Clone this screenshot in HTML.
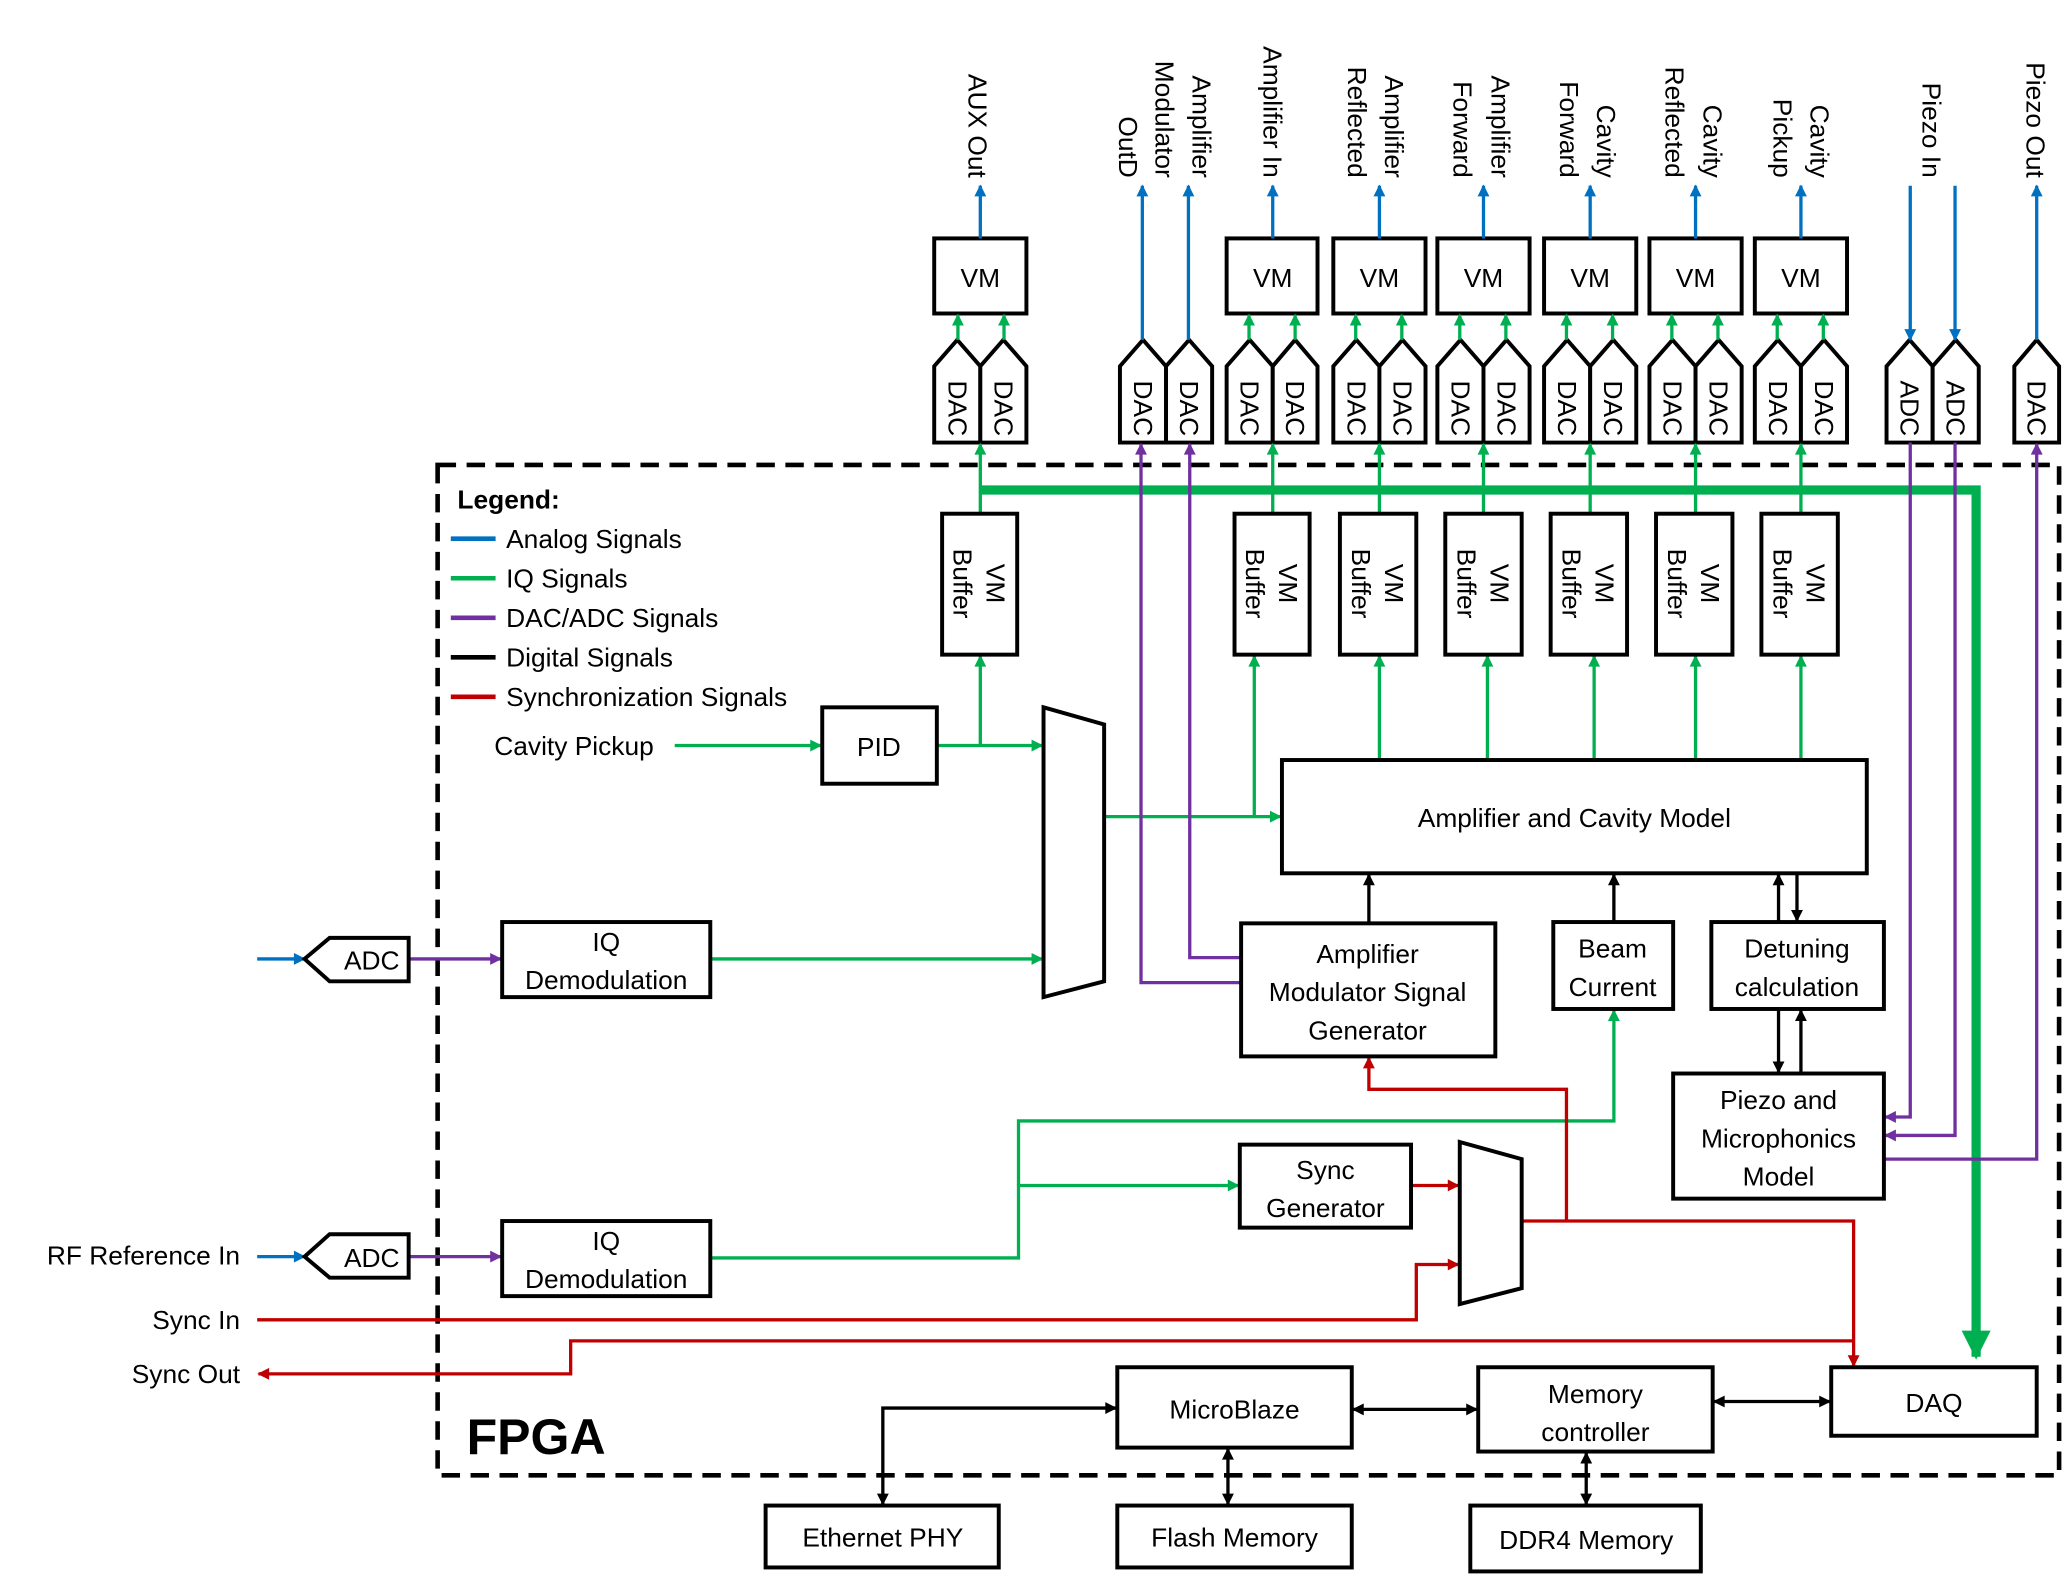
<!DOCTYPE html>
<html><head><meta charset="utf-8"><style>html,body{margin:0;padding:0;background:#fff}svg{display:block}text{font-family:"Liberation Sans",sans-serif;font-size:20px;fill:#000}</style></head><body>
<svg width="2066" height="1578" viewBox="0 0 1568 1198" xmlns="http://www.w3.org/2000/svg">
<defs>
<marker id="ab" viewBox="0 0 10 10" refX="9" refY="5" markerUnits="userSpaceOnUse" markerWidth="10" markerHeight="9" orient="auto-start-reverse"><path d="M0,0L10,5L0,10z" fill="#0070c0"/></marker>
<marker id="ag" viewBox="0 0 10 10" refX="9" refY="5" markerUnits="userSpaceOnUse" markerWidth="10" markerHeight="9" orient="auto-start-reverse"><path d="M0,0L10,5L0,10z" fill="#00b050"/></marker>
<marker id="ap" viewBox="0 0 10 10" refX="9" refY="5" markerUnits="userSpaceOnUse" markerWidth="10" markerHeight="9" orient="auto-start-reverse"><path d="M0,0L10,5L0,10z" fill="#7030a0"/></marker>
<marker id="ak" viewBox="0 0 10 10" refX="9" refY="5" markerUnits="userSpaceOnUse" markerWidth="10" markerHeight="9" orient="auto-start-reverse"><path d="M0,0L10,5L0,10z" fill="#000"/></marker>
<marker id="ar" viewBox="0 0 10 10" refX="9" refY="5" markerUnits="userSpaceOnUse" markerWidth="10" markerHeight="9" orient="auto-start-reverse"><path d="M0,0L10,5L0,10z" fill="#c00000"/></marker>
<marker id="agb" viewBox="0 0 10 10" refX="9" refY="5" markerUnits="userSpaceOnUse" markerWidth="24" markerHeight="22" orient="auto"><path d="M0,0L10,5L0,10z" fill="#00b050"/></marker>
</defs>

<!-- FPGA box -->
<rect x="332" y="353" width="1231" height="767" fill="none" stroke="#000" stroke-width="3.5" stroke-dasharray="14,8"/>
<text x="354" y="1104" style="font-size:38px;font-weight:bold">FPGA</text>

<!-- Legend -->
<text x="347" y="386" style="font-weight:bold">Legend:</text>
<g stroke-width="3.5">
<line x1="342" y1="409" x2="376" y2="409" stroke="#0070c0"/>
<line x1="342" y1="439" x2="376" y2="439" stroke="#00b050"/>
<line x1="342" y1="469" x2="376" y2="469" stroke="#7030a0"/>
<line x1="342" y1="499" x2="376" y2="499" stroke="#000"/>
<line x1="342" y1="529" x2="376" y2="529" stroke="#c00000"/>
</g>
<text x="384" y="416">Analog Signals</text>
<text x="384" y="446">IQ Signals</text>
<text x="384" y="476">DAC/ADC Signals</text>
<text x="384" y="506">Digital Signals</text>
<text x="384" y="536">Synchronization Signals</text>

<!-- Top VM boxes -->
<g fill="#fff" stroke="#000" stroke-width="3">
<rect x="709" y="181" width="70" height="57"/>
<rect x="931" y="181" width="69" height="57"/>
<rect x="1012" y="181" width="70" height="57"/>
<rect x="1091" y="181" width="70" height="57"/>
<rect x="1172" y="181" width="70" height="57"/>
<rect x="1252" y="181" width="70" height="57"/>
<rect x="1332" y="181" width="70" height="57"/>
</g>
<g text-anchor="middle">
<text x="744" y="218">VM</text><text x="966" y="218">VM</text><text x="1047" y="218">VM</text><text x="1126" y="218">VM</text><text x="1207" y="218">VM</text><text x="1287" y="218">VM</text><text x="1367" y="218">VM</text>
</g>

<!-- DAC/ADC pentagons -->
<g fill="#fff" stroke="#000" stroke-width="3">
<path d="M709,336V278L726.5,258L744,278V336Z"/><path d="M744,336V278L761.5,258L779,278V336Z"/>
<path d="M850,336V278L867.5,258L885,278V336Z"/><path d="M885,336V278L902.5,258L920,278V336Z"/>
<path d="M931,336V278L948.5,258L966,278V336Z"/><path d="M966,336V278L983,258L1000,278V336Z"/>
<path d="M1012,336V278L1029.5,258L1047,278V336Z"/><path d="M1047,336V278L1064.5,258L1082,278V336Z"/>
<path d="M1091,336V278L1108.5,258L1126,278V336Z"/><path d="M1126,336V278L1143.5,258L1161,278V336Z"/>
<path d="M1172,336V278L1189.5,258L1207,278V336Z"/><path d="M1207,336V278L1224.5,258L1242,278V336Z"/>
<path d="M1252,336V278L1269.5,258L1287,278V336Z"/><path d="M1287,336V278L1304.5,258L1322,278V336Z"/>
<path d="M1332,336V278L1349.5,258L1367,278V336Z"/><path d="M1367,336V278L1384.5,258L1402,278V336Z"/>
<path d="M1432,336V278L1449.5,258L1467,278V336Z"/><path d="M1467,336V278L1484.5,258L1502,278V336Z"/>
<path d="M1529,336V278L1546,258L1563,278V336Z"/>
</g>
<g text-anchor="middle" dominant-baseline="central">
<text transform="translate(726.5,310) rotate(90)">DAC</text><text transform="translate(761.5,310) rotate(90)">DAC</text>
<text transform="translate(867.5,310) rotate(90)">DAC</text><text transform="translate(902.5,310) rotate(90)">DAC</text>
<text transform="translate(948.5,310) rotate(90)">DAC</text><text transform="translate(983,310) rotate(90)">DAC</text>
<text transform="translate(1029.5,310) rotate(90)">DAC</text><text transform="translate(1064.5,310) rotate(90)">DAC</text>
<text transform="translate(1108.5,310) rotate(90)">DAC</text><text transform="translate(1143.5,310) rotate(90)">DAC</text>
<text transform="translate(1189.5,310) rotate(90)">DAC</text><text transform="translate(1224.5,310) rotate(90)">DAC</text>
<text transform="translate(1269.5,310) rotate(90)">DAC</text><text transform="translate(1304.5,310) rotate(90)">DAC</text>
<text transform="translate(1349.5,310) rotate(90)">DAC</text><text transform="translate(1384.5,310) rotate(90)">DAC</text>
<text transform="translate(1449.5,310) rotate(90)">ADC</text><text transform="translate(1484.5,310) rotate(90)">ADC</text>
<text transform="translate(1546,310) rotate(90)">DAC</text>
</g>

<!-- Top labels -->
<g text-anchor="end" dominant-baseline="central">
<text transform="translate(742,135) rotate(90)">AUX Out</text>
<text transform="translate(912,135) rotate(90)">Amplifier</text>
<text transform="translate(884,135) rotate(90)">Modulator</text>
<text transform="translate(856,135) rotate(90)">OutD</text>
<text transform="translate(966,135) rotate(90)">Amplifier In</text>
<text transform="translate(1058,135) rotate(90)">Amplifier</text>
<text transform="translate(1030,135) rotate(90)">Reflected</text>
<text transform="translate(1139,135) rotate(90)">Amplifier</text>
<text transform="translate(1110,135) rotate(90)">Forward</text>
<text transform="translate(1219,135) rotate(90)">Cavity</text>
<text transform="translate(1191,135) rotate(90)">Forward</text>
<text transform="translate(1300,135) rotate(90)">Cavity</text>
<text transform="translate(1271,135) rotate(90)">Reflected</text>
<text transform="translate(1381,135) rotate(90)">Cavity</text>
<text transform="translate(1353,135) rotate(90)">Pickup</text>
<text transform="translate(1466,135) rotate(90)">Piezo In</text>
<text transform="translate(1545,135) rotate(90)">Piezo Out</text>
</g>

<!-- blue arrows top -->
<g stroke="#0070c0" stroke-width="2.5" fill="none">
<line x1="744" y1="181" x2="744" y2="141" marker-end="url(#ab)"/>
<line x1="966" y1="181" x2="966" y2="141" marker-end="url(#ab)"/>
<line x1="1047" y1="181" x2="1047" y2="141" marker-end="url(#ab)"/>
<line x1="1126" y1="181" x2="1126" y2="141" marker-end="url(#ab)"/>
<line x1="1207" y1="181" x2="1207" y2="141" marker-end="url(#ab)"/>
<line x1="1287" y1="181" x2="1287" y2="141" marker-end="url(#ab)"/>
<line x1="1367" y1="181" x2="1367" y2="141" marker-end="url(#ab)"/>
<line x1="867" y1="258" x2="867" y2="141" marker-end="url(#ab)"/>
<line x1="902" y1="258" x2="902" y2="141" marker-end="url(#ab)"/>
<line x1="1450" y1="141" x2="1450" y2="258" marker-end="url(#ab)"/>
<line x1="1484" y1="141" x2="1484" y2="258" marker-end="url(#ab)"/>
<line x1="1546" y1="258" x2="1546" y2="141" marker-end="url(#ab)"/>
<line x1="195" y1="728" x2="231" y2="728" marker-end="url(#ab)"/>
<line x1="195" y1="954" x2="231" y2="954" marker-end="url(#ab)"/>
</g>

<!-- green DAC->VM -->
<g stroke="#00b050" stroke-width="2.5" fill="none">
<line x1="727" y1="258" x2="727" y2="239" marker-end="url(#ag)"/><line x1="762" y1="258" x2="762" y2="239" marker-end="url(#ag)"/>
<line x1="948" y1="258" x2="948" y2="239" marker-end="url(#ag)"/><line x1="983" y1="258" x2="983" y2="239" marker-end="url(#ag)"/>
<line x1="1029" y1="258" x2="1029" y2="239" marker-end="url(#ag)"/><line x1="1064" y1="258" x2="1064" y2="239" marker-end="url(#ag)"/>
<line x1="1108" y1="258" x2="1108" y2="239" marker-end="url(#ag)"/><line x1="1143" y1="258" x2="1143" y2="239" marker-end="url(#ag)"/>
<line x1="1189" y1="258" x2="1189" y2="239" marker-end="url(#ag)"/><line x1="1224" y1="258" x2="1224" y2="239" marker-end="url(#ag)"/>
<line x1="1269" y1="258" x2="1269" y2="239" marker-end="url(#ag)"/><line x1="1304" y1="258" x2="1304" y2="239" marker-end="url(#ag)"/>
<line x1="1349" y1="258" x2="1349" y2="239" marker-end="url(#ag)"/><line x1="1384" y1="258" x2="1384" y2="239" marker-end="url(#ag)"/>
<!-- buffers -> DACs -->
<line x1="744" y1="390" x2="744" y2="337" marker-end="url(#ag)"/>
<line x1="966" y1="390" x2="966" y2="337" marker-end="url(#ag)"/>
<line x1="1047" y1="390" x2="1047" y2="337" marker-end="url(#ag)"/>
<line x1="1126" y1="390" x2="1126" y2="337" marker-end="url(#ag)"/>
<line x1="1207" y1="390" x2="1207" y2="337" marker-end="url(#ag)"/>
<line x1="1287" y1="390" x2="1287" y2="337" marker-end="url(#ag)"/>
<line x1="1367" y1="390" x2="1367" y2="337" marker-end="url(#ag)"/>
<!-- model -> buffers -->
<line x1="1047" y1="577" x2="1047" y2="498" marker-end="url(#ag)"/>
<line x1="1129" y1="577" x2="1129" y2="498" marker-end="url(#ag)"/>
<line x1="1210" y1="577" x2="1210" y2="498" marker-end="url(#ag)"/>
<line x1="1287" y1="577" x2="1287" y2="498" marker-end="url(#ag)"/>
<line x1="1367" y1="577" x2="1367" y2="498" marker-end="url(#ag)"/>
<line x1="838" y1="620" x2="972" y2="620" marker-end="url(#ag)"/>
<polyline points="952,620 952,498" marker-end="url(#ag)"/>
<line x1="512" y1="566" x2="623" y2="566" marker-end="url(#ag)"/>
<line x1="711" y1="566" x2="791" y2="566" marker-end="url(#ag)"/>
<line x1="744" y1="566" x2="744" y2="498" marker-end="url(#ag)"/>
<line x1="539" y1="728" x2="791" y2="728" marker-end="url(#ag)"/>
<polyline points="539,955 773,955 773,900 940,900" marker-end="url(#ag)"/>
<polyline points="773,900 773,851 1225,851 1225,767" marker-end="url(#ag)"/>
</g>
<!-- thick bus -->
<polyline points="744,372 1500,372 1500,1030" fill="none" stroke="#00b050" stroke-width="7" marker-end="url(#agb)"/>

<!-- VM Buffers -->
<g fill="#fff" stroke="#000" stroke-width="3">
<rect x="715" y="390" width="57" height="107"/>
<rect x="937" y="390" width="57" height="107"/>
<rect x="1017" y="390" width="58" height="107"/>
<rect x="1097" y="390" width="58" height="107"/>
<rect x="1177" y="390" width="58" height="107"/>
<rect x="1257" y="390" width="58" height="107"/>
<rect x="1337" y="390" width="58" height="107"/>
</g>
<g text-anchor="middle" dominant-baseline="central">
<g transform="translate(743.5,443) rotate(90)"><text y="-12">VM</text><text y="13">Buffer</text></g>
<g transform="translate(965.5,443) rotate(90)"><text y="-12">VM</text><text y="13">Buffer</text></g>
<g transform="translate(1046,443) rotate(90)"><text y="-12">VM</text><text y="13">Buffer</text></g>
<g transform="translate(1126,443) rotate(90)"><text y="-12">VM</text><text y="13">Buffer</text></g>
<g transform="translate(1206,443) rotate(90)"><text y="-12">VM</text><text y="13">Buffer</text></g>
<g transform="translate(1286,443) rotate(90)"><text y="-12">VM</text><text y="13">Buffer</text></g>
<g transform="translate(1366,443) rotate(90)"><text y="-12">VM</text><text y="13">Buffer</text></g>
</g>

<!-- purple -->
<g stroke="#7030a0" stroke-width="2.5" fill="none">
<polyline points="942,727 903,727 903,337" marker-end="url(#ap)"/>
<polyline points="942,746 866,746 866,337" marker-end="url(#ap)"/>
<polyline points="1450,336 1450,848 1431,848" marker-end="url(#ap)"/>
<polyline points="1484,336 1484,862 1431,862" marker-end="url(#ap)"/>
<polyline points="1430,880 1546,880 1546,337" marker-end="url(#ap)"/>
<line x1="310" y1="728" x2="380" y2="728" marker-end="url(#ap)"/>
<line x1="310" y1="954" x2="380" y2="954" marker-end="url(#ap)"/>
</g>

<!-- red -->
<g stroke="#c00000" stroke-width="2.5" fill="none">
<line x1="1071" y1="900" x2="1107" y2="900" marker-end="url(#ar)"/>
<polyline points="195,1002 1075,1002 1075,960 1107,960" marker-end="url(#ar)"/>
<polyline points="1155,927 1407,927 1407,1037" marker-end="url(#ar)"/>
<polyline points="1189,927 1189,827 1039,827 1039,803" marker-end="url(#ar)"/>
<polyline points="1407,1018 433,1018 433,1043 196,1043" marker-end="url(#ar)"/>
</g>

<!-- black connectors -->
<g stroke="#000" stroke-width="2.5" fill="none">
<line x1="1039" y1="701" x2="1039" y2="664" marker-end="url(#ak)"/>
<line x1="1225" y1="700" x2="1225" y2="664" marker-end="url(#ak)"/>
<line x1="1350" y1="700" x2="1350" y2="664" marker-end="url(#ak)"/>
<line x1="1364" y1="663" x2="1364" y2="699" marker-end="url(#ak)"/>
<line x1="1350" y1="766" x2="1350" y2="814" marker-end="url(#ak)"/>
<line x1="1367" y1="815" x2="1367" y2="767" marker-end="url(#ak)"/>
<line x1="1027" y1="1070" x2="1121" y2="1070" marker-start="url(#ak)" marker-end="url(#ak)"/>
<line x1="1301" y1="1064" x2="1389" y2="1064" marker-start="url(#ak)" marker-end="url(#ak)"/>
<polyline points="847,1069 670,1069 670,1142" marker-start="url(#ak)" marker-end="url(#ak)"/>
<line x1="932" y1="1100" x2="932" y2="1142" marker-start="url(#ak)" marker-end="url(#ak)"/>
<line x1="1204" y1="1103" x2="1204" y2="1142" marker-start="url(#ak)" marker-end="url(#ak)"/>
</g>

<!-- boxes -->
<g fill="#fff" stroke="#000" stroke-width="3">
<rect x="624" y="537" width="87" height="58"/>
<rect x="973" y="577" width="444" height="86"/>
<rect x="942" y="701" width="193" height="101"/>
<rect x="1179" y="700" width="91" height="66"/>
<rect x="1299" y="700" width="131" height="66"/>
<rect x="1270" y="815" width="160" height="95"/>
<rect x="381" y="700" width="158" height="57"/>
<rect x="381" y="927" width="158" height="57"/>
<rect x="941" y="869" width="130" height="63"/>
<rect x="1390" y="1038" width="156" height="52"/>
<rect x="848" y="1038" width="178" height="61"/>
<rect x="1122" y="1038" width="178" height="64"/>
<rect x="581" y="1143" width="177" height="47"/>
<rect x="848" y="1143" width="178" height="47"/>
<rect x="1116" y="1143" width="175" height="50"/>
<path d="M792,537L838,550V745L792,757Z"/>
<path d="M1108,867L1155,880V978L1108,990Z"/>
<path d="M231,728L250,712H310V745H250Z"/>
<path d="M231,954L250,937H310V970H250Z"/>
</g>

<g text-anchor="middle">
<text x="667" y="574">PID</text>
<text x="1195" y="628">Amplifier and Cavity Model</text>
<text x="1038" y="731">Amplifier</text><text x="1038" y="760">Modulator Signal</text><text x="1038" y="789">Generator</text>
<text x="1224" y="727">Beam</text><text x="1224" y="756">Current</text>
<text x="1364" y="727">Detuning</text><text x="1364" y="756">calculation</text>
<text x="1350" y="842">Piezo and</text><text x="1350" y="871">Microphonics</text><text x="1350" y="900">Model</text>
<text x="460" y="722">IQ</text><text x="460" y="751">Demodulation</text>
<text x="460" y="949">IQ</text><text x="460" y="978">Demodulation</text>
<text x="1006" y="895">Sync</text><text x="1006" y="924">Generator</text>
<text x="1468" y="1072">DAQ</text>
<text x="937" y="1077">MicroBlaze</text>
<text x="1211" y="1065">Memory</text><text x="1211" y="1094">controller</text>
<text x="670" y="1174">Ethernet PHY</text>
<text x="937" y="1174">Flash Memory</text>
<text x="1204" y="1176">DDR4 Memory</text>
<text x="282" y="736">ADC</text>
<text x="282" y="962">ADC</text>
</g>
<text x="375" y="573">Cavity Pickup</text>
<g text-anchor="end">
<text x="182" y="960">RF Reference In</text>
<text x="182" y="1009">Sync In</text>
<text x="182" y="1050">Sync Out</text>
</g>
</svg>
</body></html>
